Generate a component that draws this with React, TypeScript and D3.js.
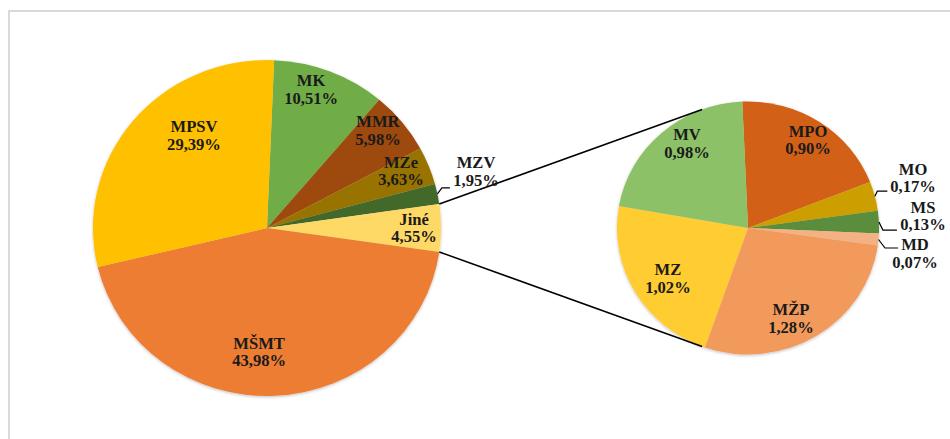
import React from "react";
import * as d3 from "d3";

// ---- data ----
const mainLabels = ["MK", "MMR", "MZe", "MZV", "Jiné", "MŠMT", "MPSV"];
const mainValues = [10.51, 5.98, 3.63, 1.95, 4.55, 43.98, 29.39];
const mainColors = ["#70AD47", "#9E480E", "#997300", "#43682B", "#FFD966", "#ED7D31", "#FFC000"];

const subLabels = ["MPO", "MO", "MS", "MD", "MŽP", "MZ", "MV"];
const subValues = [0.90, 0.17, 0.13, 0.07, 1.28, 1.02, 0.98];
const subColors = ["#D26114", "#CC9E04", "#5A8E3C", "#F4B183", "#F19A5C", "#FFCC33", "#8CC168"];

// label placement (polar: angle in degrees, radius fraction)
const mainLabelPolar: [number, number][] = [[17.1, 0.862], [47.7, 0.862], [66.4, 0.84], [74.4, 1.247], [90.2, 0.845], [183.5, 0.742], [322.7, 0.692]];
const subLabelPolar: [number, number][] = [[33.5, 0.83], [72.7, 1.319], [86.1, 1.338], [99.0, 1.29], [155.4, 0.787], [236.8, 0.73], [325.1, 0.814]];
// leader lines for outside labels: [elbow dx, elbow dy, horizontal length, y shift of line relative to block]
const mainLeaders: ( [number, number, number] | null)[] = [null, null, null, [4.5, -6, 8], null, null, null];
const subLeaders: ([number, number, number] | null)[] = [null, [2.5, -5, 10], [4, 8, 14], [6.5, 8.5, 13], null, null, null];

const fmt = (v: number) => v.toFixed(2).replace(".", ",") + "%";

const SX = 1.036;
const main = { cx: 267, cy: 228, r: 168, rot: 0 };
const sub = { cx: 748, cy: 228, r: 126.5, rot: -2.5 };

const rad = (d: number) => (d * Math.PI) / 180;

function pt(c: { cx: number; cy: number; r: number }, angDeg: number, frac: number) {
  const a = rad(angDeg);
  return [c.cx + Math.sin(a) * c.r * frac * SX, c.cy - Math.cos(a) * c.r * frac];
}

export default function App() {
  const total = d3.sum(mainValues);
  // rotate so that "Jiné" is centred at 90°
  const jIdx = mainLabels.indexOf("Jiné");
  const before = d3.sum(mainValues.slice(0, jIdx));
  const jMid = ((before + mainValues[jIdx] / 2) / total) * 360;
  main.rot = 90 - jMid;

  const pieMain = d3.pie<number>().sort(null).startAngle(rad(main.rot)).endAngle(rad(main.rot + 360))(mainValues);
  const pieSub = d3.pie<number>().sort(null).startAngle(rad(sub.rot)).endAngle(rad(sub.rot + 360))(subValues);
  const arcMain = d3.arc<d3.PieArcDatum<number>>().innerRadius(0).outerRadius(main.r);
  const arcSub = d3.arc<d3.PieArcDatum<number>>().innerRadius(0).outerRadius(sub.r);

  const jArc = pieMain[jIdx];
  const p1 = pt(main, (jArc.startAngle * 180) / Math.PI, 1);
  const p2 = pt(main, (jArc.endAngle * 180) / Math.PI, 1);
  const q1 = pt(sub, -20.5, 1);
  const q2 = pt(sub, 200.5, 1);

  const font = "'Liberation Serif', 'Times New Roman', serif";

  const renderLabel = (
    c: { cx: number; cy: number; r: number },
    name: string,
    val: number,
    polar: [number, number],
    key: string
  ) => {
    const [x, y] = pt(c, polar[0], polar[1]);
    const b1 = y - 3.5;
    return (
      <g key={key} transform={`translate(${x},${b1}) scale(${SX},1)`}>
        <text textAnchor="middle" fontFamily={font} fontWeight="bold" fontSize={16} fill="#1a1a1a">
          <tspan x={0} y={0}>{name}</tspan>
          <tspan x={0} y={17.5}>{fmt(val)}</tspan>
        </text>
      </g>
    );
  };

  const renderLeader = (
    c: { cx: number; cy: number; r: number },
    arcD: d3.PieArcDatum<number>,
    ld: [number, number, number],
    key: string
  ) => {
    const mid = (((arcD.startAngle + arcD.endAngle) / 2) * 180) / Math.PI;
    const [ex, ey] = pt(c, mid, 1);
    const bx = ex + ld[0], by = ey + ld[1];
    return <polyline key={key} points={`${ex},${ey} ${bx},${by} ${bx + ld[2]},${by}`} fill="none" stroke="#000" strokeWidth={1.2} />;
  };

  return (
    <svg width={950} height={439} style={{ position: "absolute", left: 0, top: 0, background: "#fff" }}>
      <defs>
        <filter id="sh" x="-10%" y="-10%" width="120%" height="120%">
          <feDropShadow dx="0" dy="1" stdDeviation="1.5" floodColor="#000" floodOpacity="0.25" />
        </filter>
      </defs>
      <rect x={9} y={11} width={960} height={450} fill="none" stroke="#d9d9d9" strokeWidth={2} />
      <g transform={`translate(${main.cx},${main.cy}) scale(${SX},1)`} filter="url(#sh)">
        {pieMain.map((d, i) => (
          <path key={i} d={arcMain(d) || ""} fill={mainColors[i]} />
        ))}
      </g>
      <g transform={`translate(${sub.cx},${sub.cy}) scale(${SX},1)`} filter="url(#sh)">
        {pieSub.map((d, i) => (
          <path key={i} d={arcSub(d) || ""} fill={subColors[i]} />
        ))}
      </g>
      <line x1={p1[0]} y1={p1[1]} x2={q1[0]} y2={q1[1]} stroke="#000" strokeWidth={1.5} />
      <line x1={p2[0]} y1={p2[1]} x2={q2[0]} y2={q2[1]} stroke="#000" strokeWidth={1.5} />
      {pieMain.map((d, i) => (mainLeaders[i] ? renderLeader(main, d, mainLeaders[i]!, "lm" + i) : null))}
      {pieSub.map((d, i) => (subLeaders[i] ? renderLeader(sub, d, subLeaders[i]!, "ls" + i) : null))}
      {mainLabels.map((n, i) => renderLabel(main, n, mainValues[i], mainLabelPolar[i], "m" + i))}
      {subLabels.map((n, i) => renderLabel(sub, n, subValues[i], subLabelPolar[i], "s" + i))}
    </svg>
  );
}
